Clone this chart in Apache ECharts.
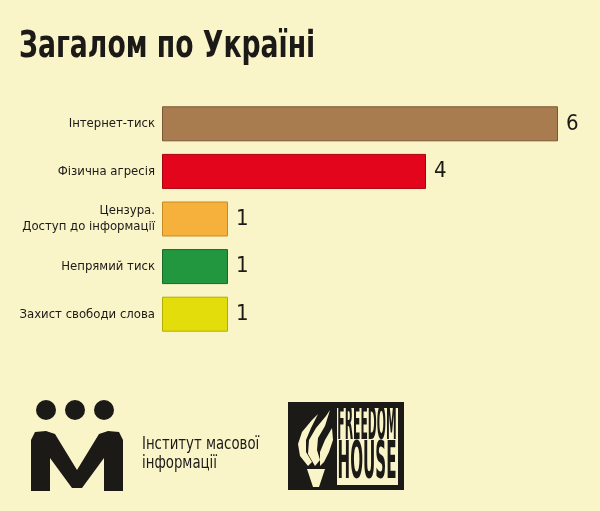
<!DOCTYPE html>
<html><head><meta charset="utf-8">
<script src="https://cdn.jsdelivr.net/npm/echarts@6/dist/echarts.min.js"></script>
<style>html,body{margin:0;padding:0;background:#faf4c9;}#c{width:600px;height:511px;}</style>
</head><body><div id="c"></div>
<script>
const categories = ['Інтернет-тиск', 'Фізична агресія', 'Цензура.\nДоступ до інформації', 'Непрямий тиск', 'Захист свободи слова'];
const values = [6, 4, 1, 1, 1];
const barColors = ['#a97c50', '#e2051b', '#f6b03c', '#22973f', '#e3dd0c'];
const borderColors = ['#7d5633', '#a8000f', '#c98a20', '#146a2a', '#b3ad00'];
const titleText = 'Загалом по Україні';
const imiText = 'Інститут масової\nінформації';

const F = "'DejaVu Sans Condensed', 'Liberation Sans Narrow', sans-serif";
const cream = '#faf4c9';
const ink = '#1c1a17';

const chart = echarts.init(document.getElementById('c'));
chart.setOption({
  backgroundColor: cream,
  animation: false,
  grid: { left: 162, right: 42, top: 100, bottom: 173 },
  xAxis: { type: 'value', min: 0, max: 6, show: false },
  yAxis: {
    type: 'category', data: categories, inverse: true,
    axisLine: { show: false }, axisTick: { show: false },
    axisLabel: { margin: 7, fontFamily: F, fontSize: 13, color: ink, lineHeight: 16, align: 'right' }
  },
  series: [{
    type: 'bar', barWidth: 35,
    data: values.map((v, i) => ({ value: v, itemStyle: { color: barColors[i], borderColor: borderColors[i], borderWidth: 1 } })),
    label: { show: true, position: 'right', distance: 8, fontFamily: F, fontSize: 22, color: ink }
  }],
  graphic: [
    // title (condensed horizontally)
    { type: 'text', x: 19, y: 28, scaleX: 0.78, style: { text: titleText, fontFamily: F, fontSize: 38, fontWeight: 'bold', fill: ink, verticalAlign: 'top' } },
    // IMI logo
    { type: 'circle', shape: { cx: 46, cy: 410, r: 10 }, style: { fill: ink } },
    { type: 'circle', shape: { cx: 75, cy: 410, r: 10 }, style: { fill: ink } },
    { type: 'circle', shape: { cx: 104, cy: 410, r: 10 }, style: { fill: ink } },
    { type: 'polygon', shape: { points: [[31,491],[31,440],[35,432],[46,431],[55,434],[77,470],[99,434],[108,431],[119,432],[123,440],[123,491],[104,491],[104,458],[82,488],[72,488],[50,458],[50,491]] }, style: { fill: ink } },
    { type: 'text', x: 142, y: 435, scaleX: 0.87, style: { text: imiText, fontFamily: F, fontSize: 17, lineHeight: 19, fill: ink, verticalAlign: 'top' } },
    // Freedom House logo
    { type: 'rect', shape: { x: 288, y: 402, width: 116, height: 88 }, style: { fill: ink } },
    { type: 'rect', shape: { x: 337, y: 408, width: 61, height: 77 }, style: { fill: cream } },
    { type: 'text', x: 367, y: 427, scaleX: 0.6, scaleY: 2.3, style: { text: 'FREEDOM', fontFamily: F, fontWeight: 'bold', fontSize: 20, fill: ink, align: 'center', verticalAlign: 'middle' } },
    { type: 'text', x: 367, y: 465, scaleX: 0.84, scaleY: 2.55, style: { text: 'HOUSE', fontFamily: F, fontWeight: 'bold', fontSize: 20, fill: ink, align: 'center', verticalAlign: 'middle' } },
    // torch
    { type: 'polygon', shape: { points: [[307,469],[325,469],[319,487],[313,487]] }, style: { fill: cream } },
    { type: 'polygon', shape: { points: [[308,466],[300,456],[298,444],[302,432],[312,420],[318,414],[311,428],[306,440],[306,452],[312,462]] }, style: { fill: cream } },
    { type: 'polygon', shape: { points: [[315,466],[308,454],[309,440],[316,428],[326,416],[330,410],[325,426],[318,438],[317,450],[320,460]] }, style: { fill: cream } },
    { type: 'polygon', shape: { points: [[320,466],[320,452],[325,440],[332,428],[333,440],[329,452],[324,462]] }, style: { fill: cream } }
  ]
});
</script></body></html>
